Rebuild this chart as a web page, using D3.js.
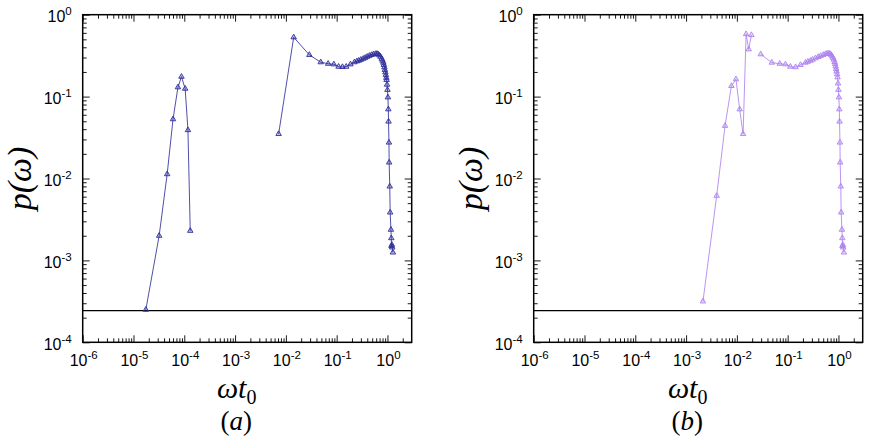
<!DOCTYPE html>
<html>
<head>
<meta charset="utf-8">
<script src="https://cdn.jsdelivr.net/npm/d3@7"></script>
<style>
  body { margin: 0; background: #fff; }
  text { fill: #000; }
  .sans { font-family: "Liberation Sans", Arial, Helvetica, sans-serif; }
  .serif { font-family: "Liberation Serif", "Times New Roman", "DejaVu Serif", serif; }
</style>
</head>
<body>
<svg id="chart" width="872" height="436"></svg>
<script>
// panel (a), low-frequency bump
const aX1 = [1.75e-5, 3.2e-5, 4.6e-5, 6.0e-5, 7.5e-5, 8.8e-5, 1.04e-4, 1.18e-4, 1.31e-4];
const aY1 = [2.5e-4, 2.0e-3, 1.13e-2, 5.3e-2, 0.130, 0.175, 0.125, 0.039, 2.3e-3];
// panel (a), main band
const aX2 = [0.0072, 0.01425, 0.029, 0.0485, 0.068, 0.088, 0.109, 0.13, 0.154, 0.187, 0.224, 0.25, 0.273,
             0.30, 0.333, 0.365, 0.40, 0.44, 0.485, 0.53, 0.58, 0.62, 0.65, 0.69, 0.73, 0.77, 0.80, 0.83,
             0.85, 0.87, 0.89, 0.91, 0.93, 0.95, 0.96, 0.98, 1.0, 1.02, 1.04, 1.05, 1.07, 1.08, 1.11, 1.13,
             1.17, 1.19, 1.2, 1.22, 1.24, 1.28];
const aY2 = [0.035, 0.53, 0.323, 0.263, 0.252, 0.248, 0.232, 0.23, 0.232, 0.248, 0.263, 0.27, 0.275,
             0.282, 0.29, 0.298, 0.307, 0.315, 0.323, 0.328, 0.332, 0.333, 0.33, 0.32, 0.307, 0.29, 0.275, 0.26,
             0.244, 0.228, 0.212, 0.198, 0.184, 0.17, 0.16, 0.14, 0.121, 0.098, 0.07, 0.0496, 0.0275, 0.0157, 0.008, 0.00385,
             0.00237, 0.00187, 0.0015, 0.00155, 0.00144, 0.00125];
// panel (b), rising part with zig-zag
const bX1 = [2.15e-3, 4.0e-3, 5.85e-3, 7.8e-3, 9.6e-3, 0.01135, 0.01325, 0.0152, 0.0171, 0.0193];
const bY1 = [3.16e-4, 6.15e-3, 0.044, 0.135, 0.163, 0.070, 0.035, 0.58, 0.378, 0.565];
// panel (b), main band
const bX2 = [0.0295, 0.0487, 0.0698, 0.0906, 0.113, 0.143, 0.179, 0.224, 0.25, 0.282, 0.31, 0.353, 0.40,
             0.444, 0.5, 0.557, 0.6, 0.64, 0.676, 0.71, 0.75, 0.78, 0.81, 0.84, 0.86, 0.88, 0.90, 0.92,
             0.94, 0.96, 0.98, 1.0, 1.02, 1.04, 1.05, 1.07, 1.08, 1.11, 1.13, 1.17, 1.19, 1.2, 1.22, 1.24, 1.28];
const bY2 = [0.329, 0.26, 0.252, 0.248, 0.232, 0.229, 0.244, 0.26, 0.267, 0.275, 0.283, 0.294, 0.305,
             0.314, 0.323, 0.332, 0.335, 0.336, 0.334, 0.325, 0.312, 0.298, 0.283, 0.265, 0.25, 0.234, 0.218, 0.203,
             0.188, 0.172, 0.145, 0.121, 0.098, 0.07, 0.0496, 0.0275, 0.0157, 0.008, 0.00385, 0.00237, 0.00187, 0.0015, 0.00155, 0.00144, 0.00125];

const xTickExp = [-6, -5, -4, -3, -2, -1, 0];
const yTickExp = [0, -1, -2, -3, -4];
const refLevel = 2.44e-4;

const plotTop = 14.7, plotH = 327.6, plotW = 329;
const svg = d3.select("#chart");

function drawPanel(left, series, color, tag) {
  const x = d3.scaleLog().domain([1e-6, 3]).range([left, left + plotW]);
  const y = d3.scaleLog().domain([1e-4, 1]).range([plotTop + plotH, plotTop]);
  const g = svg.append("g");

  const xMajor = xTickExp.map(e => Math.pow(10, e));
  const yMajor = yTickExp.map(e => Math.pow(10, e));
  const xMinor = [], yMinor = [];
  xTickExp.forEach(e => { for (let m = 2; m < 10; m++) { const v = m * Math.pow(10, e); if (v < 2.9) xMinor.push(v); } });
  yTickExp.forEach(e => { if (e < 0) for (let m = 2; m < 10; m++) yMinor.push(m * Math.pow(10, e)); });

  // ticks on all four sides, pointing inward
  const axes = [
    [d3.axisBottom(x), `translate(0,${plotTop + plotH})`, xMajor, xMinor],
    [d3.axisTop(x), `translate(0,${plotTop})`, xMajor, xMinor],
    [d3.axisLeft(y), `translate(${left},0)`, yMajor, yMinor],
    [d3.axisRight(y), `translate(${left + plotW},0)`, yMajor, yMinor]
  ];
  axes.forEach(([ax, tr, major, minor]) => {
    g.append("g").attr("transform", tr)
      .call(ax.tickValues(major).tickSize(-7).tickSizeOuter(0).tickFormat(""))
      .call(s => s.select(".domain").remove());
    g.append("g").attr("transform", tr)
      .call(ax.tickValues(minor).tickSize(-4).tickSizeOuter(0).tickFormat(""))
      .call(s => s.select(".domain").remove());
  });
  g.selectAll(".tick line").attr("stroke", "#000").attr("stroke-width", 0.9);

  g.append("rect")
    .attr("x", left).attr("y", plotTop).attr("width", plotW).attr("height", plotH)
    .attr("fill", "none").attr("stroke", "#000").attr("stroke-width", 1.5);

  // tick labels 10^n
  xTickExp.forEach(e => {
    const t = g.append("text").attr("class", "sans").attr("x", x(Math.pow(10, e)) + 1).attr("y", 366)
      .attr("text-anchor", "middle").attr("font-size", 16);
    t.append("tspan").text("10");
    t.append("tspan").attr("dy", -7).attr("font-size", 11.5).text(e);
  });
  yTickExp.forEach(e => {
    const t = g.append("text").attr("class", "sans").attr("x", left - 11).attr("y", y(Math.pow(10, e)) + 7.3)
      .attr("text-anchor", "end").attr("font-size", 16);
    t.append("tspan").text("10");
    t.append("tspan").attr("dy", -7).attr("font-size", 11.5).text(e);
  });

  // horizontal reference line
  g.append("line")
    .attr("x1", left).attr("x2", left + plotW)
    .attr("y1", y(refLevel)).attr("y2", y(refLevel))
    .attr("stroke", "#000").attr("stroke-width", 1.3);

  const line = d3.line().x(d => x(d[0])).y(d => y(d[1]));
  const tri = d3.symbol(d3.symbolTriangle, 13);
  series.forEach(([xs, ys]) => {
    const pts = xs.map((v, i) => [v, ys[i]]);
    g.append("path").datum(pts).attr("d", line)
      .attr("fill", "none").attr("stroke", color).attr("stroke-width", 1).attr("stroke-opacity", 0.85);
    g.selectAll(null).data(pts).enter().append("path")
      .attr("d", tri)
      .attr("transform", d => `translate(${x(d[0])},${y(d[1])})`)
      .attr("fill", color).attr("fill-opacity", 0.3)
      .attr("stroke", color).attr("stroke-width", 0.9);
  });

  // axis titles
  g.append("text").attr("class", "serif")
    .attr("transform", `translate(${left - 52},${plotTop + plotH / 2}) rotate(-90)`)
    .attr("text-anchor", "middle")
    .attr("font-style", "italic").attr("font-size", 34)
    .text("p(ω)");

  const xl = g.append("text").attr("class", "serif").attr("x", left + 154).attr("y", 398)
    .attr("text-anchor", "middle").attr("font-size", 30);
  xl.append("tspan").attr("font-style", "italic").text("ωt");
  xl.append("tspan").attr("dy", 6).attr("font-size", 20).text("0");

  const cap = g.append("text").attr("class", "serif").attr("x", left + 153.5).attr("y", 430)
    .attr("text-anchor", "middle").attr("font-size", 27);
  cap.append("tspan").text("(");
  cap.append("tspan").attr("font-style", "italic").text(tag);
  cap.append("tspan").text(")");
}

drawPanel(82.7, [[aX1, aY1], [aX2, aY2]], "#30309c", "a");
drawPanel(533.7, [[bX1, bY1], [bX2, bY2]], "#ae82f0", "b");
</script>
</body>
</html>
